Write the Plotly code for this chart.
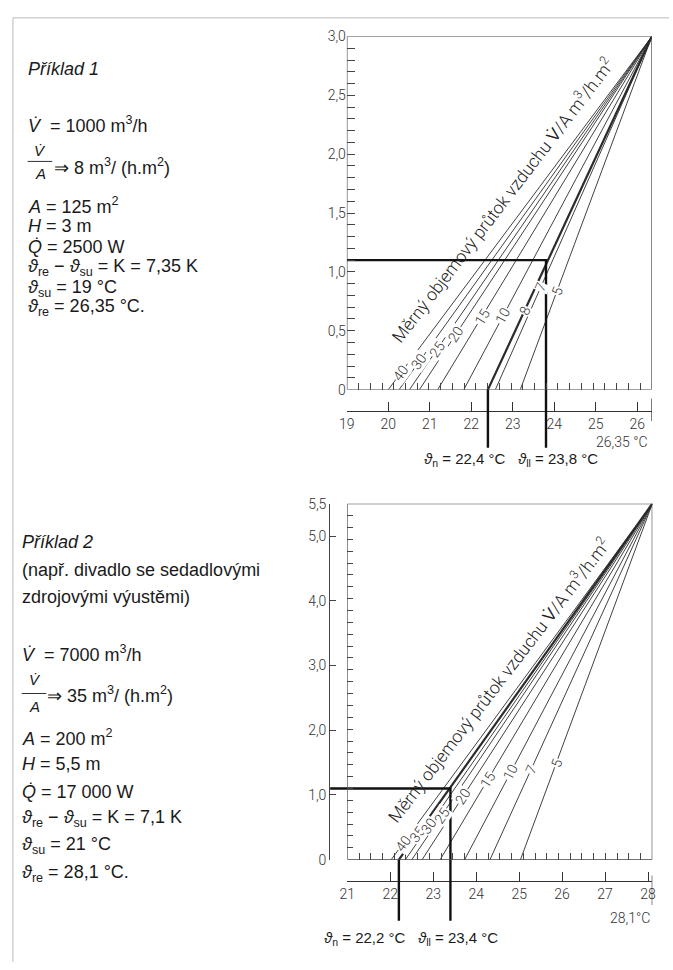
import math
import plotly.graph_objects as go

# ---------------- data ----------------
# Example 1 (Příklad 1)
flow_rates_1 = [40, 30, 25, 20, 15, 10, 8, 7, 5]                # V/A  m3/(h.m2)
start_temp_1 = [20.0, 20.26, 20.51, 20.75, 21.19, 21.82, 22.4, 22.58, 23.18]  # °C at floor
t_su_1, t_re_1 = 19.0, 26.35
room_h_1 = 3.0
zone_h_1 = 1.1
t_n_1, t_ll_1 = 22.4, 23.8
selected_1 = 8
x_ticks_1 = [19, 20, 21, 22, 23, 24, 25, 26]
y_ticks_1 = [0, 0.5, 1.0, 1.5, 2.0, 2.5, 3.0]
y_text_1 = ["0", "0,5", "1,0", "1,5", "2,0", "2,5", "3,0"]

# Example 2 (Příklad 2)
flow_rates_2 = [40, 35, 30, 25, 20, 15, 10, 7, 5]
start_temp_2 = [22.02, 22.2, 22.35, 22.5, 22.74, 23.16, 23.73, 24.32, 25.03]
t_su_2, t_re_2 = 21.0, 28.1
room_h_2 = 5.5
zone_h_2 = 1.1
t_n_2, t_ll_2 = 22.2, 23.4
selected_2 = 35
x_ticks_2 = [21, 22, 23, 24, 25, 26, 27, 28]
y_ticks_2 = [0, 1, 2, 3, 4, 5, 5.5]
y_text_2 = ["0", "1,0", "2,0", "3,0", "4,0", "5,0", "5,5"]

# ---------------- layout constants ----------------
W, H = 673, 970
INK = "#2b2b2b"
CH_FAMILY = "Roboto, Liberation Sans, sans-serif"
CH_FONT = dict(family=CH_FAMILY, size=14, color="#333", weight=300)
TX_FAMILY = "Liberation Sans, Arial, sans-serif"
TX_FONT = dict(family=TX_FAMILY, size=18, color="#1a1a1a")

# label heights along fan lines (metres)
lab_h_1 = [0.14, 0.24, 0.345, 0.47, 0.62, 0.63, 0.67, 0.87, 0.84]
lab_h_2 = [0.26, 0.40, 0.52, 0.68, 0.98, 1.23, 1.35, 1.40, 1.50]

C1 = dict(left=345, right=655.5, top=29, bottom=388, axis_y=410, ext_y=447,
          tall=(397, 420), lab_y=459, lab_x=422, end_lab=(654, 441), big=(503, 195))
C2 = dict(left=345.5, right=656, top=504, bottom=866, axis_y=888, ext_y=928,
          tall=(882, 912), lab_y=946, lab_x=320, end_lab=(656, 925), big=(499, 683), yax_x=328)


def px(x):
    return x / W


def py(y):
    return 1 - y / H


fig = go.Figure()
AX = dict(showgrid=False, zeroline=False, fixedrange=True)


def build(n, C, flows, starts, t_su, t_re, room_h, zone_h, t_n, t_ll, sel, xt, yt, ytt, lab_h):
    # axis ids: box subplot (xb, yb), lower labelled axis subplot (xl, yl)
    if n == 1:
        xb, yb, xl, yl = "x", "y", "x3", "y3"
    else:
        xb, yb, xl, yl = "x2", "y2", "x4", "y4"
    ppx = (C["right"] - C["left"]) / (t_re - t_su)
    ppy = (C["bottom"] - C["top"]) / room_h

    # fan lines
    for f, s in zip(flows, starts):
        fig.add_trace(go.Scatter(x=[s, t_re], y=[0, room_h], mode="lines", xaxis=xb, yaxis=yb,
                                 line=dict(color=INK, width=2.2 if f == sel else 0.9),
                                 hoverinfo="skip", showlegend=False))
    # construction lines
    fig.add_trace(go.Scatter(x=[t_su, t_ll, t_ll], y=[zone_h, zone_h, 0], mode="lines",
                             xaxis=xb, yaxis=yb, line=dict(color="#111", width=2.4),
                             hoverinfo="skip", showlegend=False))
    # labels on fan lines
    for f, s, lh in zip(flows, starts, lab_h):
        xx = s + (t_re - s) * lh / room_h
        ang = math.degrees(math.atan2(room_h * ppy, (t_re - s) * ppx))
        fig.add_annotation(x=xx, y=lh, xref=xb, yref=yb, text=str(f), showarrow=False,
                           xanchor="center", yanchor="middle",
                           textangle=-ang, bgcolor="white", borderpad=0,
                           font=dict(family=CH_FAMILY, size=14, color="#333", weight=300))
    # box
    fig.add_shape(type="rect", xref=xb, yref=yb, x0=t_su, x1=t_re, y0=0, y1=room_h,
                  line=dict(color="#444", width=1.2))
    # vertical extensions below the box
    ext = -(C["ext_y"] - C["bottom"]) / (C["bottom"] - C["top"])
    for t in (t_n, t_ll):
        fig.add_shape(type="line", xref=xb, yref=yb + " domain", x0=t, x1=t, y0=0, y1=ext,
                      line=dict(color="#111", width=2.4))
    # tall end tick at t_re on the lower axis
    fig.add_shape(type="line", xref=xb, yref="paper", x0=t_re, x1=t_re,
                  y0=py(C["tall"][0]), y1=py(C["tall"][1]), line=dict(color="#333", width=1.2))
    end_txt = (f"{t_re:.2f}".replace(".", ",") + " °C") if n == 1 else \
        (f"{t_re:.1f}".replace(".", ",") + "°C")
    fig.add_annotation(x=px(C["end_lab"][0]), y=py(C["end_lab"][1]), xref="paper", yref="paper",
                       xanchor="right", yanchor="middle", showarrow=False, text=end_txt,
                       font=CH_FONT)
    # big rotated label
    fig.add_annotation(x=px(C["big"][0]), y=py(C["big"][1]), xref="paper", yref="paper",
                       xanchor="center", yanchor="middle",
                       text="Měrný objemový průtok vzduchu V\u0307/A m<sup>3</sup>/h.m<sup>2</sup>",
                       textangle=-52.5, showarrow=False,
                       font=dict(family=CH_FAMILY, size=17.5, color="#222", weight=300))
    # result label
    fmt = lambda v: f"{v:.1f}".replace(".", ",")
    fig.add_annotation(x=px(C["lab_x"]), y=py(C["lab_y"]), xref="paper", yref="paper",
                       xanchor="left", yanchor="middle", showarrow=False,
                       text=f"<i>ϑ</i><sub>n</sub> = {fmt(t_n)} °C   <i>ϑ</i><sub>ll</sub> = {fmt(t_ll)} °C",
                       font=dict(family=TX_FAMILY, size=15, color="#1a1a1a"))

    dom_x = [px(C["left"]), px(C["right"])]
    dom_y = [py(C["bottom"]), py(C["top"])]
    # box x axis: small inner ticks along the bottom edge
    fig.layout["xaxis" + xb[1:]] = dict(domain=dom_x, range=[t_su, t_re], anchor=yb,
                                        tick0=t_su, dtick=(t_re - t_su) / 26, ticks="inside",
                                        ticklen=7, tickcolor="#444", showticklabels=False,
                                        showline=False, **AX)
    # lower labelled temperature axis (own thin subplot)
    fig.layout["xaxis" + xl[1:]] = dict(domain=dom_x, range=[t_su, t_re], anchor=yl,
                                        showline=True, linecolor="#333", linewidth=1.2,
                                        ticks="inside", ticklen=9, tickcolor="#333",
                                        tickvals=xt, ticktext=[str(v) for v in xt],
                                        tickfont=CH_FONT, **AX)
    fig.layout["yaxis" + yl[1:]] = dict(domain=[py(C["axis_y"]), py(C["axis_y"] - 2)],
                                        range=[0, 1], anchor=xl, visible=False, **AX)
    fig.add_trace(go.Scatter(x=[t_su], y=[0], xaxis=xl, yaxis=yl, mode="markers",
                             marker=dict(opacity=0), hoverinfo="skip", showlegend=False))
    if n == 1:
        fig.layout["yaxis"] = dict(domain=dom_y, range=[0, room_h], anchor=xb, showline=False,
                                   ticks="inside", ticklen=8, tickcolor="#444", tickvals=yt,
                                   ticktext=ytt, tickfont=CH_FONT,
                                   minor=dict(ticks="inside", dtick=0.1, ticklen=8,
                                              tickcolor="#444"), **AX)
    else:
        fig.layout["yaxis2"] = dict(domain=dom_y, range=[0, room_h], anchor=xb, showline=False,
                                    tick0=0, dtick=room_h / 30, ticks="inside", ticklen=6,
                                    tickcolor="#444", showticklabels=False, **AX)
        # separate labelled height axis on the left
        fig.layout["xaxis5"] = dict(domain=[px(C["yax_x"]), px(C["yax_x"] + 2)], range=[0, 1],
                                    anchor="y5", visible=False, **AX)
        fig.layout["yaxis5"] = dict(domain=dom_y, range=[0, room_h], anchor="x5", showline=True,
                                    linecolor="#444", linewidth=1, ticks="inside", ticklen=6,
                                    tickcolor="#444", tickvals=yt, ticktext=ytt,
                                    tickfont=CH_FONT, **AX)
        fig.add_trace(go.Scatter(x=[0], y=[0], xaxis="x5", yaxis="y5", mode="markers",
                                 marker=dict(opacity=0), hoverinfo="skip", showlegend=False))
        # horizontal extension to the labelled height axis
        fig.add_shape(type="line", xref=xb + " domain", yref=yb,
                      x0=(C["yax_x"] - C["left"]) / (C["right"] - C["left"]), x1=0,
                      y0=zone_h, y1=zone_h, line=dict(color="#111", width=2.4))


build(1, C1, flow_rates_1, start_temp_1, t_su_1, t_re_1, room_h_1, zone_h_1, t_n_1, t_ll_1,
      selected_1, x_ticks_1, y_ticks_1, y_text_1, lab_h_1)
build(2, C2, flow_rates_2, start_temp_2, t_su_2, t_re_2, room_h_2, zone_h_2, t_n_2, t_ll_2,
      selected_2, x_ticks_2, y_ticks_2, y_text_2, lab_h_2)

# ---------------- left text blocks ----------------
V = "<i>V\u0307</i>"
Q = "<i>Q\u0307</i>"
TH = "<i>ϑ</i>"
text_1 = [
    ("<i>Příklad 1</i>", 62),
    (f"{V}  = 1000 m<sup>3</sup>/h", 118),
    ("<i>A</i> = 125 m<sup>2</sup>", 201),
    ("<i>H</i> = 3 m", 222),
    (f"{Q} = 2500 W", 243),
    (f"{TH}<sub>re</sub> − {TH}<sub>su</sub> = K = 7,35 K", 264),
    (f"{TH}<sub>su</sub> = 19 °C", 285),
    (f"{TH}<sub>re</sub> = 26,35 °C.", 305),
]
text_2 = [
    ("<i>Příklad 2</i>", 543),
    ("(např. divadlo se sedadlovými", 571),
    ("zdrojovými výustěmi)", 599),
    (f"{V}  = 7000 m<sup>3</sup>/h", 656),
    ("<i>A</i> = 200 m<sup>2</sup>", 742),
    ("<i>H</i> = 5,5 m", 769),
    (f"{Q} = 17 000 W", 797),
    (f"{TH}<sub>re</sub> − {TH}<sub>su</sub> = K = 7,1 K", 824),
    (f"{TH}<sub>su</sub> = 21 °C", 852),
    (f"{TH}<sub>re</sub> = 28,1 °C.", 880),
]
for txt, yy in text_1:
    fig.add_annotation(x=px(18), y=py(yy), xref="paper", yref="paper", xanchor="left",
                       yanchor="middle", text=txt, showarrow=False, font=TX_FONT)
for txt, yy in text_2:
    fig.add_annotation(x=px(12), y=py(yy), xref="paper", yref="paper", xanchor="left",
                       yanchor="middle", text=txt, showarrow=False, font=TX_FONT)

# fractions V/A => ...
for (cx, ynum, ybar, yden, x0, x1, xr, yr, rtxt) in [
    (33, 145, 156, 168, 20, 45, 45, 161, "⇒ 8 m<sup>3</sup>/ (h.m<sup>2</sup>)"),
    (27, 683, 697, 710, 14, 39, 38, 698, "⇒ 35 m<sup>3</sup>/ (h.m<sup>2</sup>)"),
]:
    fig.add_annotation(x=px(cx), y=py(ynum), xref="paper", yref="paper", text=V,
                       xanchor="center", yanchor="middle", showarrow=False,
                       font=dict(family=TX_FAMILY, size=15, color="#1a1a1a"))
    fig.add_annotation(x=px(cx), y=py(yden), xref="paper", yref="paper", text="<i>A</i>",
                       xanchor="center", yanchor="middle", showarrow=False,
                       font=dict(family=TX_FAMILY, size=15, color="#1a1a1a"))
    fig.add_shape(type="line", xref="paper", yref="paper", x0=px(x0), x1=px(x1),
                  y0=py(ybar), y1=py(ybar), line=dict(color="#333", width=1))
    fig.add_annotation(x=px(xr), y=py(yr), xref="paper", yref="paper", xanchor="left",
                       yanchor="middle", text=rtxt, showarrow=False, font=TX_FONT)

# page frame (top and left edges of the scanned page)
fig.add_shape(type="line", xref="paper", yref="paper", x0=px(5), x1=1, y0=py(10), y1=py(10),
              line=dict(color="#bbb", width=1))
fig.add_shape(type="line", xref="paper", yref="paper", x0=px(5), x1=px(5), y0=py(10), y1=0,
              line=dict(color="#bbb", width=1))

fig.update_layout(width=W, height=H, margin=dict(l=0, r=0, t=0, b=0),
                  paper_bgcolor="white", plot_bgcolor="rgba(0,0,0,0)", showlegend=False)
fig.write_html("out.html", config={"displayModeBar": False},
               post_script="document.body.style.margin='0';document.body.style.overflow='hidden';")
